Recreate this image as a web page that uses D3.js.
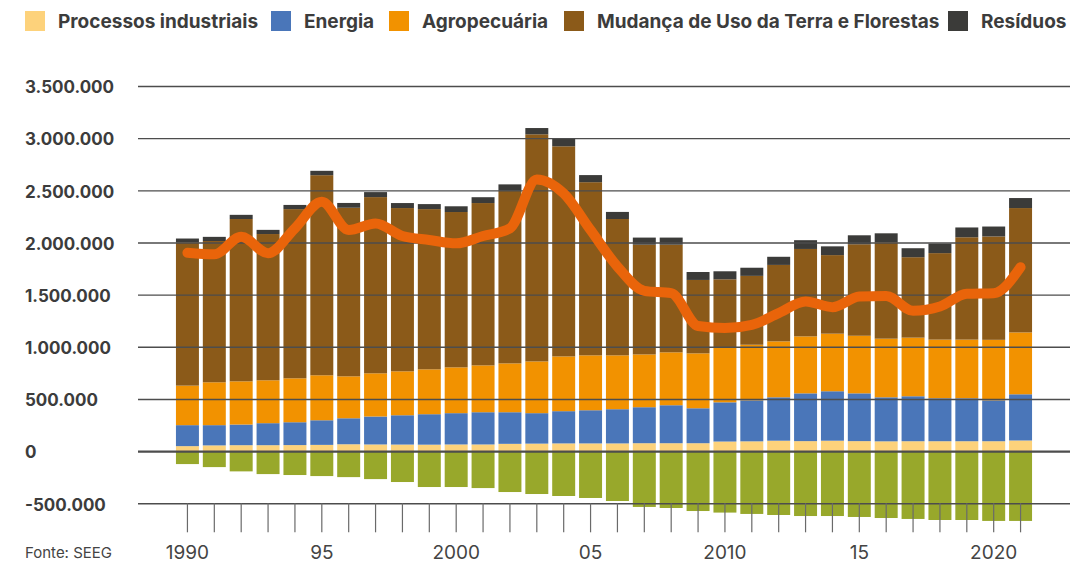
<!DOCTYPE html>
<html>
<head>
<meta charset="utf-8">
<script src="https://cdn.jsdelivr.net/npm/d3@7"></script>
<style>
  body { margin: 0; background: #fff; }
  svg { display: block; font-family: Inter, "Noto Sans", sans-serif; }
</style>
</head>
<body>
<div id="chart"></div>
<script>
// emissões em mil tCO2e
const years = d3.range(1990, 2022)
const processos = [48, 55, 57, 57, 58, 60, 66, 64, 63, 62, 64, 64, 70, 72, 74, 74, 74, 76, 76, 76, 92, 94, 100, 96, 100, 96, 94, 95, 95, 95, 95, 102]
const energia = [201, 194, 198, 211, 219, 236, 249, 268, 281, 292, 300, 309, 303, 292, 309, 318, 328, 345, 364, 335, 376, 393, 416, 458, 474, 458, 422, 431, 412, 412, 392, 443]
const agropecuaria = [379, 411, 414, 411, 421, 431, 402, 414, 421, 430, 439, 449, 468, 496, 525, 526, 516, 506, 507, 526, 528, 533, 536, 546, 552, 552, 562, 562, 562, 562, 580, 593]
const mudanca = [1372, 1354, 1556, 1402, 1622, 1918, 1616, 1689, 1565, 1536, 1489, 1556, 1654, 2177, 2014, 1660, 1307, 1052, 1032, 704, 651, 660, 733, 838, 753, 877, 924, 771, 829, 981, 991, 1192]
const residuos = [38, 40, 40, 40, 40, 42, 46, 48, 48, 48, 55, 56, 62, 60, 72, 68, 68, 68, 68, 76, 77, 78, 78, 84, 84, 86, 86, 86, 92, 94, 95, 96]
const remocoes = [-124, -153, -194, -220, -229, -239, -249, -268, -296, -344, -344, -354, -392, -411, -430, -449, -478, -535, -545, -574, -589, -602, -612, -622, -622, -631, -641, -650, -660, -660, -669, -669]
const liquidas = [1902, 1887, 2055, 1897, 2136, 2390, 2120, 2183, 2062, 2024, 1992, 2062, 2136, 2604, 2470, 2119, 1769, 1536, 1514, 1200, 1180, 1211, 1323, 1434, 1380, 1482, 1488, 1345, 1386, 1508, 1514, 1763]

const yTicks = [-500000, 0, 500000, 1000000, 1500000, 2000000, 2500000, 3000000, 3500000]
const xLabels = { 1990: '1990', 1995: '95', 2000: '2000', 2005: '05', 2010: '2010', 2015: '15', 2020: '2020' }

const series = [
  { key: 'processos', name: 'Processos industriais', color: '#fdd27b', values: processos },
  { key: 'energia', name: 'Energia', color: '#4a76b9', values: energia },
  { key: 'agropecuaria', name: 'Agropecuária', color: '#f29200', values: agropecuaria },
  { key: 'mudanca', name: 'Mudança de Uso da Terra e Florestas', color: '#8b5a19', values: mudanca },
  { key: 'residuos', name: 'Resíduos', color: '#3b3b39', values: residuos },
]

const width = 1080
const height = 564
const gridLeft = 138
const gridRight = 1070
const legendX = [25, 271, 389, 564, 948]

const rows = years.map((yr, i) => {
  const row = { year: yr }
  series.forEach(s => { row[s.key] = s.values[i] * 1000 })
  row.remocoes = remocoes[i] * 1000
  row.liquidas = liquidas[i] * 1000
  return row
})

const ptBR = d3.formatLocale({ decimal: ',', thousands: '.', grouping: [3], currency: ['R$', ''], minus: '-' })
const fmt = ptBR.format(',d')

const svg = d3.select('#chart').append('svg')
  .attr('width', width)
  .attr('height', height)

const x = d3.scaleBand()
  .domain(years)
  .range([174, 1034])
  .paddingInner(0.145)
  .paddingOuter(0.0725)

const y = d3.scaleLinear()
  .domain([-500000, 3500000])
  .range([503.3, 86])

// legend
const legend = svg.append('g').attr('class', 'legend')
  .selectAll('g')
  .data(series)
  .join('g')
  .attr('transform', (d, i) => `translate(${legendX[i]},0)`)
legend.append('rect')
  .attr('y', 11)
  .attr('width', 20).attr('height', 20)
  .attr('fill', d => d.color)
legend.append('text')
  .attr('x', 33).attr('y', 21)
  .attr('dominant-baseline', 'central')
  .attr('font-size', 19).attr('font-weight', 700)
  .attr('fill', '#3c3c3c')
  .text(d => d.name)

// stacked bars
const stack = d3.stack().keys(series.map(s => s.key))(rows)

svg.append('g').selectAll('g')
  .data(stack)
  .join('g')
  .attr('fill', (d, i) => series[i].color)
  .selectAll('rect')
  .data(d => d)
  .join('rect')
  .attr('x', d => x(d.data.year))
  .attr('width', x.bandwidth())
  .attr('y', d => y(d[1]))
  .attr('height', d => y(d[0]) - y(d[1]))

svg.append('g').selectAll('rect')
  .data(rows)
  .join('rect')
  .attr('fill', '#98a82b')
  .attr('x', d => x(d.year))
  .attr('width', x.bandwidth())
  .attr('y', y(0))
  .attr('height', d => y(d.remocoes) - y(0))

// grid + y labels
const yAxis = svg.append('g')
  .attr('transform', `translate(${gridLeft},0)`)
  .call(d3.axisLeft(y).tickValues(yTicks).tickSize(-(gridRight - gridLeft)).tickFormat(fmt))
yAxis.select('.domain').remove()
yAxis.selectAll('.tick line')
  .attr('stroke', '#4d4d4d')
  .attr('stroke-width', d => d === 0 ? 2.2 : 1.4)
yAxis.selectAll('.tick text')
  .attr('x', 25 - gridLeft)
  .attr('dy', '0.4em')
  .attr('text-anchor', 'start')
  .attr('font-family', 'Inter, "Noto Sans", sans-serif')
  .attr('font-size', 17).attr('font-weight', 700)
  .attr('fill', '#3c3c3c')

// x axis ticks
const xAxis = svg.append('g')
  .attr('transform', `translate(0,${y(-500000)})`)
  .call(d3.axisBottom(x).tickSize(29).tickPadding(13).tickFormat(d => xLabels[d] || ''))
xAxis.select('.domain').remove()
xAxis.selectAll('.tick line').attr('stroke', '#6a6a6a').attr('stroke-width', 1.2)
xAxis.selectAll('.tick text')
  .attr('font-family', 'Inter, "Noto Sans", sans-serif')
  .attr('font-size', 19)
  .attr('fill', '#444')

// net emissions line
const line = d3.line()
  .x(d => x(d.year) + x.bandwidth() / 2)
  .y(d => y(d.liquidas))
  .curve(d3.curveMonotoneX)

svg.append('path')
  .datum(rows)
  .attr('fill', 'none')
  .attr('stroke', '#e9640a')
  .attr('stroke-width', 10)
  .attr('stroke-linecap', 'round')
  .attr('stroke-linejoin', 'round')
  .attr('d', line)

svg.append('text')
  .attr('x', 25).attr('y', 558)
  .attr('font-size', 15)
  .attr('fill', '#444')
  .text('Fonte: SEEG')
</script>
</body>
</html>
